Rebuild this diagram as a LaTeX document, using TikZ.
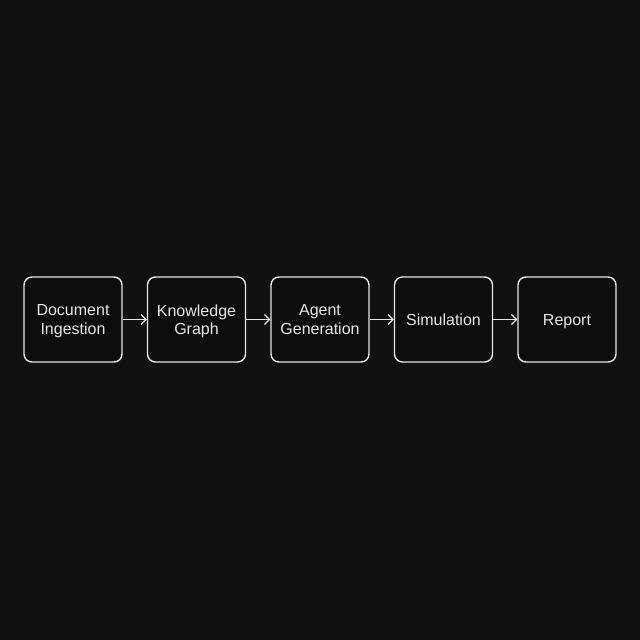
\documentclass[tikz,border=0pt]{standalone}
\usepackage{fontspec}
\setmainfont{Liberation Sans}
\usetikzlibrary{arrows.meta}
\definecolor{bg}{HTML}{111111}
\definecolor{boxfill}{HTML}{0D0D0D}
\definecolor{line}{HTML}{E6E6E6}
\tikzset{
  stage/.style={draw=line, fill=boxfill, line width=1.4pt, rounded corners=8pt,
    minimum width=98pt, minimum height=85pt, align=center, text=line,
    font=\fontsize{16}{18.5}\selectfont, inner sep=0pt, text depth=-1pt},
  flow/.style={draw=line, line width=1.2pt, -{Straight Barb[length=5pt, width=10pt]}}
}
\begin{document}
\begin{tikzpicture}[node distance=123.5pt]
  \fill[bg] (0,0) rectangle (640pt,640pt);
  \useasboundingbox (0,0) rectangle (640pt,640pt);

  \node[stage] (D) at (73pt,320.5pt) {Document\\Ingestion};
  \node[stage, right of=D] (K) {Knowledge\\Graph};
  \node[stage, right of=K] (A) {Agent\\Generation};
  \node[stage, right of=A] (S) {Simulation};
  \node[stage, right of=S] (R) {Report};

  \draw[flow] (D) -- (K);
  \draw[flow] (K) -- (A);
  \draw[flow] (A) -- (S);
  \draw[flow] (S) -- (R);

\end{tikzpicture}
\end{document}
